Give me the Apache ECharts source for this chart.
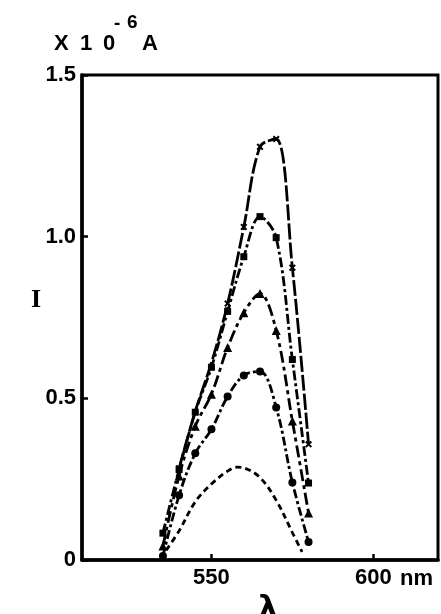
<!DOCTYPE html>
<html>
<head>
<meta charset="utf-8">
<script src="https://cdn.jsdelivr.net/npm/echarts@6/dist/echarts.min.js"></script>
<style>
  html, body { margin: 0; padding: 0; background: #fff; }
  #chart { width: 441px; height: 614px; }
</style>
</head>
<body>
<div id="chart"></div>
<script>
// Wavelength (nm) at which the photocurrent was measured
const wavelengths = [535, 540, 545, 550, 555, 560, 565, 570, 575, 580];

// Photocurrent I (x 10^-6 A) for each curve
const crossCurve    = [null, 0.284, 0.46, 0.61, 0.793, 1.03, 1.278, 1.302, 0.904, 0.358];
const squareCurve   = [0.083, 0.28, 0.457, 0.596, 0.769, 0.938, 1.062, 0.997, 0.62, 0.238];
const triangleCurve = [0.043, 0.26, 0.414, 0.513, 0.657, 0.765, 0.824, 0.71, 0.43, 0.145];
const circleCurve   = [0.012, 0.20, 0.33, 0.404, 0.506, 0.571, 0.583, 0.472, 0.24, 0.056];

// Dashed curve drawn without markers
const dashedWavelengths = [536, 540, 545, 550, 555, 558, 560, 565, 570, 575, 578];
const dashedCurve       = [0.03, 0.09, 0.18, 0.235, 0.275, 0.287, 0.285, 0.255, 0.185, 0.085, 0.025];

// Marker-less points on the cross curve (hidden under the square markers)
const crossHidden = [545, 550];

// Axis ticks
const xTicks = [550, 600];

const crossSymbol = 'path://M0,2L2,0L5,3L8,0L10,2L7,5L10,8L8,10L5,7L2,10L0,8L3,5Z';

function pairs(xs, ys) {
  const out = [];
  xs.forEach((x, i) => { if (ys[i] !== null) out.push([x, ys[i]]); });
  return out;
}

const crossData = pairs(wavelengths, crossCurve).map(p =>
  crossHidden.includes(p[0]) ? { value: p, symbol: 'none' } : p);

const font = 'Liberation Sans';
const labelFont = 'bold 22px "Liberation Sans"';

function lineSeries(data, symbol, size, dash) {
  return {
    type: 'line',
    data: data,
    smooth: 0.35,
    symbol: symbol,
    symbolSize: size,
    showSymbol: true,
    itemStyle: { color: '#000' },
    lineStyle: { color: '#000', width: 2.8, type: dash },
    emphasis: { disabled: true },
    z: 3
  };
}

function txt(text, left, top, f) {
  return { type: 'text', left: left, top: top, style: { text: text, font: f || labelFont, fill: '#000' } };
}

const chart = echarts.init(document.getElementById('chart'), null, { renderer: 'canvas' });
chart.setOption({
  animation: false,
  backgroundColor: '#fff',
  grid: {
    left: 82, right: 3, top: 75, bottom: 54,
    outerBoundsMode: 'none',
    containLabel: false,
    show: true, borderColor: '#000', borderWidth: 3, backgroundColor: 'transparent'
  },
  xAxis: {
    type: 'value',
    min: 510, max: 620,
    splitLine: { show: false },
    axisLine: { show: true, onZero: false, lineStyle: { color: '#000', width: 3.5 } },
    axisTick: { show: true, inside: true, length: 6, customValues: xTicks, lineStyle: { color: '#000', width: 2.5 } },
    axisLabel: { customValues: xTicks, color: '#000', fontFamily: font, fontWeight: 'bold', fontSize: 22, margin: 7 },
    name: 'λ',
    nameLocation: 'middle',
    nameGap: 26,
    nameTextStyle: { color: '#000', fontFamily: 'DejaVu Sans', fontWeight: 'bold', fontSize: 30, padding: [0, 0, 0, 16] }
  },
  yAxis: {
    type: 'value',
    min: 0, max: 1.5, interval: 0.5,
    splitLine: { show: false },
    axisLine: { show: true, lineStyle: { color: '#000', width: 3.5 } },
    axisTick: { show: true, inside: true, length: 6, lineStyle: { color: '#000', width: 2.5 } },
    axisLabel: {
      color: '#000', fontFamily: font, fontWeight: 'bold', fontSize: 22, margin: 6,
      formatter: v => (v === 0 ? '0' : v.toFixed(1))
    }
  },
  graphic: [
    txt('X', 54, 33),
    txt('1', 80, 33),
    txt('0', 103, 33),
    txt('-', 114, 14, 'bold 19px "Liberation Sans"'),
    txt('6', 127, 13, 'bold 19px "Liberation Sans"'),
    txt('A', 142, 33),
    txt('nm', 400, 568),
    txt('I', 31, 287, 'bold 26px "Liberation Serif"')
  ],
  series: [
    lineSeries(crossData, crossSymbol, 7, [16, 3]),
    lineSeries(pairs(wavelengths, squareCurve), 'rect', 7, [10, 3, 3, 3]),
    lineSeries(pairs(wavelengths, triangleCurve), 'triangle', 9, [12, 4, 4, 4]),
    lineSeries(pairs(wavelengths, circleCurve), 'circle', 8, [9, 3, 3, 3]),
    lineSeries(pairs(dashedWavelengths, dashedCurve), 'none', 0, [6, 4])
  ]
});
</script>
</body>
</html>
